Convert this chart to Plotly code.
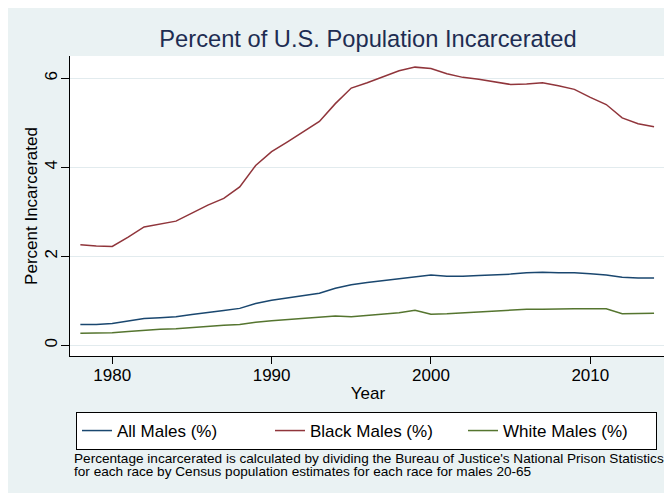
import plotly.graph_objects as go

years = list(range(1978, 2015))
all_males = [0.47, 0.47, 0.49, 0.54, 0.60, 0.62, 0.64, 0.69, 0.73, 0.78,
             0.83, 0.94, 1.01, 1.06, 1.12, 1.17, 1.28, 1.36, 1.41, 1.45,
             1.50, 1.54, 1.58, 1.55, 1.55, 1.57, 1.58, 1.60, 1.63, 1.64,
             1.63, 1.63, 1.61, 1.58, 1.53, 1.51, 1.51]
black_males = [2.26, 2.23, 2.22, 2.43, 2.66, 2.73, 2.79, 2.97, 3.15, 3.30,
               3.56, 4.04, 4.35, 4.57, 4.79, 5.03, 5.43, 5.78, 5.90, 6.03,
               6.17, 6.25, 6.22, 6.10, 6.02, 5.98, 5.92, 5.86, 5.87, 5.90,
               5.83, 5.75, 5.57, 5.41, 5.11, 4.98, 4.91]
white_males = [0.27, 0.27, 0.28, 0.31, 0.34, 0.36, 0.37, 0.40, 0.43, 0.45,
               0.47, 0.52, 0.55, 0.58, 0.61, 0.63, 0.66, 0.64, 0.67, 0.70,
               0.73, 0.79, 0.70, 0.71, 0.73, 0.75, 0.77, 0.79, 0.81, 0.81,
               0.82, 0.82, 0.82, 0.82, 0.71, 0.71, 0.72]

series_names = ["All Males (%)", "Black Males (%)", "White Males (%)"]
series_colors = ["#1A476F", "#90353B", "#55752F"]
x_ticks = [1980, 1990, 2000, 2010]
y_ticks = [0, 2, 4, 6]

title_text = "Percent of U.S. Population Incarcerated"
x_title = "Year"
y_title = "Percent Incarcerated"
note_lines = [
    "Percentage incarcerated is calculated by dividing the Bureau of Justice's National Prison Statistics",
    "for each race by Census population estimates for each race for males 20-65",
]

FONT = "Liberation Sans, Arial, sans-serif"
BG = "#EAF2F3"

W, H = 672, 493
L, R, T, B = 62, 14, 48, 145
PW, PH = W - L - R, H - T - B


def px_x(p):
    return (p - L) / PW


def px_y(p):
    return (H - B - p) / PH


fig = go.Figure()
for name, vals, col in zip(series_names, [all_males, black_males, white_males], series_colors):
    fig.add_trace(go.Scatter(x=years, y=vals, mode="lines", name=name,
                             line=dict(color=col, width=1.5)))

fig.update_layout(
    width=W, height=H,
    margin=dict(l=L, r=R, t=T, b=B, pad=0, autoexpand=False),
    paper_bgcolor=BG,
    plot_bgcolor="white",
    font=dict(family=FONT, size=17, color="black"),
    title=dict(text=title_text, x=0.5, xref="paper", xanchor="center",
               y=1 - 31 / H, yref="container", yanchor="middle",
               font=dict(family=FONT, size=23.7, color="#1E2D52")),
    xaxis=dict(range=[1977.35, 2014.75], tickvals=x_ticks, ticks="outside",
               ticklen=7, tickcolor="black", tickwidth=1, automargin=False,
               ticklabelstandoff=-3,
               showline=True, linecolor="black", linewidth=1, mirror=False,
               showgrid=False, zeroline=False,
               tickfont=dict(size=17, color="black"),
               title=dict(text=x_title, standoff=2, font=dict(size=17, color="black"))),
    yaxis=dict(range=[-0.24, 6.5], tickvals=y_ticks, ticks="outside",
               ticklen=8, tickcolor="black", tickwidth=1, tickangle=-90,
               ticklabelstandoff=-3, automargin=False,
               showline=True, linecolor="black", linewidth=1, mirror=False,
               showgrid=True, gridcolor="#E2EBEE", gridwidth=1, zeroline=False,
               tickfont=dict(size=17, color="black"),
               title=dict(text=y_title, standoff=0, font=dict(size=17, color="black"))),
    legend=dict(orientation="h", x=px_x(68), xanchor="left", y=px_y(404), yanchor="top",
                bgcolor="white", bordercolor="black", borderwidth=1,
                font=dict(size=17, color="black"),
                entrywidth=148, entrywidthmode="pixels"),
    showlegend=True,
)

for i, line in enumerate(note_lines):
    fig.add_annotation(text=line, xref="paper", yref="paper",
                       x=px_x(64), y=px_y(450 + 13 * i), xanchor="left", yanchor="middle",
                       showarrow=False, align="left",
                       font=dict(family=FONT, size=13.6, color="black"))

fig.write_html("out.html")
